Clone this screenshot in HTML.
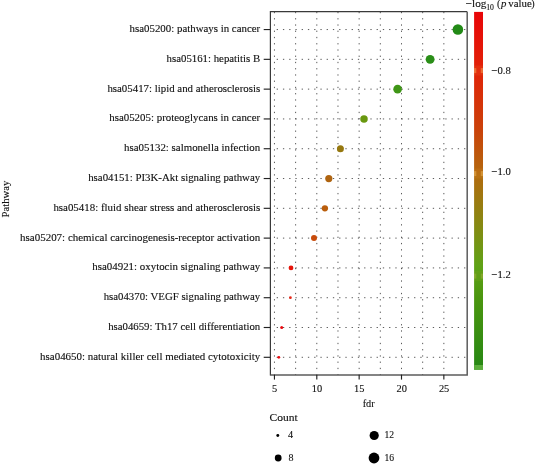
<!DOCTYPE html>
<html><head><meta charset="utf-8"><title>KEGG pathway enrichment</title>
<style>
html,body{margin:0;padding:0;background:#fff;}
svg{display:block}
text{font-family:"Liberation Serif","DejaVu Serif",serif;font-size:10.2px;fill:#111;stroke:#111;stroke-width:0.12px}
</style></head><body>
<svg width="535" height="464" viewBox="0 0 535 464">
<defs>
<linearGradient id="cb" x1="0" y1="0" x2="0" y2="1">
<stop offset="0" stop-color="#e80508"/>
<stop offset="0.165" stop-color="#e12308"/>
<stop offset="0.33" stop-color="#ca420a"/>
<stop offset="0.455" stop-color="#b26a0e"/>
<stop offset="0.59" stop-color="#888812"/>
<stop offset="0.71" stop-color="#5fa216"/>
<stop offset="0.80" stop-color="#4b960f"/>
<stop offset="1" stop-color="#268714"/>
</linearGradient>
</defs>
<rect width="535" height="464" fill="#fff"/>

<g stroke="#3c3c3c" stroke-width="0.85" stroke-dasharray="1.3 4.944" fill="none">
<line x1="274.45" y1="11.90" x2="274.45" y2="375.00"/>
<line x1="295.62" y1="11.90" x2="295.62" y2="375.00"/>
<line x1="316.80" y1="11.90" x2="316.80" y2="375.00"/>
<line x1="337.98" y1="11.90" x2="337.98" y2="375.00"/>
<line x1="359.15" y1="11.90" x2="359.15" y2="375.00"/>
<line x1="380.32" y1="11.90" x2="380.32" y2="375.00"/>
<line x1="401.50" y1="11.90" x2="401.50" y2="375.00"/>
<line x1="422.67" y1="11.90" x2="422.67" y2="375.00"/>
<line x1="443.85" y1="11.90" x2="443.85" y2="375.00"/>
<line x1="276.70" y1="29.55" x2="467.20" y2="29.55"/>
<line x1="276.70" y1="59.34" x2="467.20" y2="59.34"/>
<line x1="276.70" y1="89.14" x2="467.20" y2="89.14"/>
<line x1="276.70" y1="118.94" x2="467.20" y2="118.94"/>
<line x1="276.70" y1="148.73" x2="467.20" y2="148.73"/>
<line x1="276.70" y1="178.53" x2="467.20" y2="178.53"/>
<line x1="276.70" y1="208.32" x2="467.20" y2="208.32"/>
<line x1="276.70" y1="238.12" x2="467.20" y2="238.12"/>
<line x1="276.70" y1="267.91" x2="467.20" y2="267.91"/>
<line x1="276.70" y1="297.71" x2="467.20" y2="297.71"/>
<line x1="276.70" y1="327.50" x2="467.20" y2="327.50"/>
<line x1="276.70" y1="357.30" x2="467.20" y2="357.30"/>
</g>
<g stroke="#3a3a3a" stroke-width="1.2" fill="none">
<path d="M270.40 11.10 V375.60"/>
<path d="M270.40 11.70 H467.20"/>
</g>
<g stroke="#5c5c5c" stroke-width="1.5" fill="none">
<path d="M270.40 375.00 H467.20 V11.70"/>
</g>
<g stroke="#222" stroke-width="1.15">
<line x1="263.7" y1="29.55" x2="270.40" y2="29.55"/>
<line x1="263.7" y1="59.34" x2="270.40" y2="59.34"/>
<line x1="263.7" y1="89.14" x2="270.40" y2="89.14"/>
<line x1="263.7" y1="118.94" x2="270.40" y2="118.94"/>
<line x1="263.7" y1="148.73" x2="270.40" y2="148.73"/>
<line x1="263.7" y1="178.53" x2="270.40" y2="178.53"/>
<line x1="263.7" y1="208.32" x2="270.40" y2="208.32"/>
<line x1="263.7" y1="238.12" x2="270.40" y2="238.12"/>
<line x1="263.7" y1="267.91" x2="270.40" y2="267.91"/>
<line x1="263.7" y1="297.71" x2="270.40" y2="297.71"/>
<line x1="263.7" y1="327.50" x2="270.40" y2="327.50"/>
<line x1="263.7" y1="357.30" x2="270.40" y2="357.30"/>
<line x1="274.45" y1="375.00" x2="274.45" y2="379.6"/>
<line x1="316.80" y1="375.00" x2="316.80" y2="379.6"/>
<line x1="359.15" y1="375.00" x2="359.15" y2="379.6"/>
<line x1="401.50" y1="375.00" x2="401.50" y2="379.6"/>
<line x1="443.85" y1="375.00" x2="443.85" y2="379.6"/>
</g>
<text x="129.6" y="31.9" textLength="130.6" lengthAdjust="spacingAndGlyphs">hsa05200: pathways in cancer</text>
<text x="166.6" y="61.7" textLength="93.6" lengthAdjust="spacingAndGlyphs">hsa05161: hepatitis B</text>
<text x="107.4" y="91.5" textLength="152.8" lengthAdjust="spacingAndGlyphs">hsa05417: lipid and atherosclerosis</text>
<text x="109.2" y="121.3" textLength="151.0" lengthAdjust="spacingAndGlyphs">hsa05205: proteoglycans in cancer</text>
<text x="124.1" y="151.1" textLength="136.1" lengthAdjust="spacingAndGlyphs">hsa05132: salmonella infection</text>
<text x="88.2" y="180.9" textLength="172.0" lengthAdjust="spacingAndGlyphs">hsa04151: PI3K-Akt signaling pathway</text>
<text x="53.4" y="210.7" textLength="206.8" lengthAdjust="spacingAndGlyphs">hsa05418: fluid shear stress and atherosclerosis</text>
<text x="20.1" y="240.5" textLength="240.1" lengthAdjust="spacingAndGlyphs">hsa05207: chemical carcinogenesis-receptor activation</text>
<text x="92.3" y="270.3" textLength="167.9" lengthAdjust="spacingAndGlyphs">hsa04921: oxytocin signaling pathway</text>
<text x="103.7" y="300.1" textLength="156.5" lengthAdjust="spacingAndGlyphs">hsa04370: VEGF signaling pathway</text>
<text x="108.2" y="329.9" textLength="152.0" lengthAdjust="spacingAndGlyphs">hsa04659: Th17 cell differentiation</text>
<text x="40.1" y="359.7" textLength="220.1" lengthAdjust="spacingAndGlyphs">hsa04650: natural killer cell mediated cytotoxicity</text>
<text x="272.0" y="391.8" textLength="5.2" lengthAdjust="spacingAndGlyphs">5</text>
<text x="311.8" y="391.8" textLength="10.4" lengthAdjust="spacingAndGlyphs">10</text>
<text x="354.1" y="391.8" textLength="10.4" lengthAdjust="spacingAndGlyphs">15</text>
<text x="396.5" y="391.8" textLength="10.4" lengthAdjust="spacingAndGlyphs">20</text>
<text x="438.9" y="391.8" textLength="10.4" lengthAdjust="spacingAndGlyphs">25</text>
<text x="362.7" y="406.5" textLength="12" lengthAdjust="spacingAndGlyphs">fdr</text>
<text transform="translate(9.1 217.4) rotate(-90)" textLength="36.8" lengthAdjust="spacingAndGlyphs">Pathway</text>
<circle cx="457.9" cy="29.55" r="5.30" fill="#228a16"/>
<circle cx="430.1" cy="59.34" r="4.45" fill="#2a8e18"/>
<circle cx="397.6" cy="89.14" r="4.30" fill="#3f9616"/>
<circle cx="364.0" cy="118.94" r="3.75" fill="#69980f"/>
<circle cx="340.4" cy="148.73" r="3.50" fill="#96780f"/>
<circle cx="328.8" cy="178.53" r="3.60" fill="#af6410"/>
<circle cx="324.9" cy="208.32" r="3.15" fill="#ba5e0c"/>
<circle cx="314.0" cy="238.12" r="3.00" fill="#c84c0c"/>
<circle cx="291.0" cy="267.91" r="2.40" fill="#e6140a"/>
<circle cx="290.4" cy="297.71" r="1.40" fill="#e62819"/>
<circle cx="281.7" cy="327.50" r="1.50" fill="#eb0a0f"/>
<circle cx="278.8" cy="357.30" r="1.40" fill="#eb0a0f"/>
<rect x="474.1" y="11.9" width="8.9" height="357.8" fill="url(#cb)"/>
<rect x="474.1" y="365" width="8.9" height="4.8" fill="#5cae3c"/>
<rect x="474.1" y="65.5" width="8.9" height="10" fill="#ffb050" opacity="0.09"/>
<rect x="474.1" y="68.1" width="2.2" height="5" fill="#ffd070" opacity="0.38"/>
<rect x="480.8" y="68.1" width="2.2" height="5" fill="#ffd070" opacity="0.38"/>
<rect x="474.1" y="168.5" width="8.9" height="10" fill="#ffb050" opacity="0.09"/>
<rect x="474.1" y="171.1" width="2.2" height="5" fill="#ffd070" opacity="0.38"/>
<rect x="480.8" y="171.1" width="2.2" height="5" fill="#ffd070" opacity="0.38"/>
<rect x="474.1" y="271.0" width="8.9" height="10" fill="#ffb050" opacity="0.05"/>
<rect x="474.1" y="273.6" width="2.2" height="5" fill="#ffd070" opacity="0.21"/>
<rect x="480.8" y="273.6" width="2.2" height="5" fill="#ffd070" opacity="0.21"/>
<text x="491.5" y="73.5" textLength="19.3" lengthAdjust="spacingAndGlyphs">−0.8</text>
<text x="491.5" y="175.0" textLength="19.3" lengthAdjust="spacingAndGlyphs">−1.0</text>
<text x="491.5" y="278.1" textLength="19.3" lengthAdjust="spacingAndGlyphs">−1.2</text>
<text x="465.7" y="7.1" textLength="20.7" lengthAdjust="spacingAndGlyphs">−log</text>
<text x="486.2" y="9.7" style="font-size:7.4px" textLength="7.7" lengthAdjust="spacingAndGlyphs">10</text>
<text x="496.9" y="7.1">(</text>
<text x="500.9" y="7.1" font-style="italic" textLength="5.4" lengthAdjust="spacingAndGlyphs">p</text>
<text x="508.3" y="7.1" textLength="23.5" lengthAdjust="spacingAndGlyphs">value</text>
<text x="531.2" y="7.1">)</text>
<text x="269.5" y="420.5" textLength="28.1" lengthAdjust="spacingAndGlyphs">Count</text>
<circle cx="277.8" cy="435.5" r="1.45" fill="#000"/>
<circle cx="278.2" cy="458" r="3.4" fill="#000"/>
<circle cx="374.2" cy="435.5" r="4.6" fill="#000"/>
<circle cx="374" cy="458" r="5.4" fill="#000"/>
<text x="288" y="437.7" textLength="5.1" lengthAdjust="spacingAndGlyphs">4</text>
<text x="288.6" y="460.6" textLength="5" lengthAdjust="spacingAndGlyphs">8</text>
<text x="384.5" y="437.9" textLength="9.6" lengthAdjust="spacingAndGlyphs">12</text>
<text x="384.5" y="460.6" textLength="9.6" lengthAdjust="spacingAndGlyphs">16</text>
</svg></body></html>
